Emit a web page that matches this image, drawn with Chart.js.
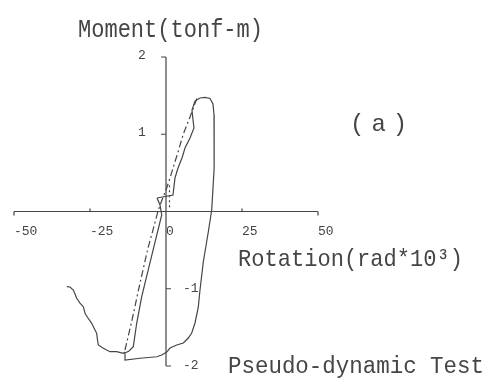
<!DOCTYPE html>
<html>
<head>
<meta charset="utf-8">
<script src="https://cdn.jsdelivr.net/npm/chart.js@4/dist/chart.umd.min.js"></script>
<style>
  html, body { margin: 0; padding: 0; background: #fff; }
  canvas { display: block; }
</style>
</head>
<body>
<canvas id="chart" width="486" height="382"></canvas>
<script>
// Main hysteresis loop: loading to the positive peak, unloading to the negative side and back
const loopRotation = [-2.96, 2.30, 2.96, 3.95, 5.26, 6.25, 7.89, 9.21, 8.88, 8.55, 9.54, 11.18, 12.83, 14.47,
  15.46, 15.79, 15.89, 15.79, 15.46, 15.03, 13.91, 12.27, 11.18, 10.63, 9.54, 8.45, 7.34, 5.69, 3.52, 1.32,
  0.23, -1.41, -3.06, -8.55, -13.49, -13.49, -12.17, -10.76, -9.64, -7.99, -6.91, -3.85, -1.41, -1.97, -2.96];
const loopMoment = [0.175, 0.214, 0.434, 0.563, 0.693, 0.822, 0.951, 1.081, 1.184, 1.314, 1.430, 1.469, 1.476, 1.463,
  1.392, 1.249, 0.990, 0.563, 0.304, 0.019, -0.265, -0.654, -1.016, -1.236, -1.443, -1.573, -1.638, -1.702, -1.728, -1.767,
  -1.819, -1.858, -1.880, -1.900, -1.922, -1.832, -1.806, -1.750, -1.447, -1.103, -0.926, -0.434, -0.045, 0.084, 0.175];

// Dash-dot reloading branch
const branchRotation = [-13.49, -11.18, -8.55, -5.92, -4.28, -2.63, -1.32, 0.23, 1.32, 3.95, 5.59, 7.89, 10.20];
const branchMoment = [-1.793, -1.405, -0.926, -0.472, -0.239, 0.006, 0.149, 0.304, 0.434, 0.770, 0.990, 1.223, 1.469];

// Negative-side path running in from the left
const tailRotation = [-32.66, -31.58, -30.49, -29.93, -29.38, -28.29, -27.20, -26.64, -25.66, -24.44, -23.68, -22.80,
  -22.53, -22.27, -20.63, -18.42, -16.22, -14.05, -13.49];
const tailMoment = [-0.973, -0.977, -1.016, -1.068, -1.124, -1.185, -1.232, -1.318, -1.379, -1.447, -1.508, -1.577,
  -1.663, -1.728, -1.771, -1.815, -1.815, -1.836, -1.819];

// Short dotted segment near the origin
const dotRotation = [1.15, 1.15];
const dotMoment = [0.34, 0.02];

// Axis ticks
const xTicks = [-50, -25, 0, 25, 50];
const xTickLabels = ['-50', '-25', '0', '25', '50'];
const yTicks = [2, 1, -1, -2];
const yTickLabels = ['2', '1', '-1', '-2'];

const INK = '#454545';
const FONT = '"Liberation Mono", "DejaVu Sans Mono", monospace';

const pts = (xs, ys) => xs.map((x, i) => ({ x, y: ys[i] }));

// Text squeezed horizontally to span [left, right]
function fitText(ctx, str, left, right, baseline, size) {
  ctx.save();
  ctx.font = `${size}px ${FONT}`;
  const w = ctx.measureText(str).width;
  ctx.translate(left, baseline);
  ctx.scale((right - left) / w, 1);
  ctx.textAlign = 'left';
  ctx.textBaseline = 'alphabetic';
  ctx.fillText(str, 0, 0);
  ctx.restore();
}

// Axes crossing at the origin, with tick marks and labels placed from the scales
const crossAxes = {
  id: 'crossAxes',
  beforeDatasetsDraw(chart) {
    const { ctx, scales: { x, y } } = chart;
    const x0 = x.getPixelForValue(0);
    const y0 = y.getPixelForValue(0);
    ctx.save();
    ctx.strokeStyle = INK;
    ctx.lineWidth = 1.2;
    ctx.beginPath();
    ctx.moveTo(x.getPixelForValue(xTicks[0]), y0);
    ctx.lineTo(x.getPixelForValue(xTicks[xTicks.length - 1]), y0);
    ctx.moveTo(x0, y.getPixelForValue(yTicks[0]));
    ctx.lineTo(x0, y.getPixelForValue(yTicks[yTicks.length - 1]));
    xTicks.forEach((v, i) => {
      if (v === 0) return;
      const px = x.getPixelForValue(v);
      const end = i === 0 || i === xTicks.length - 1;
      ctx.moveTo(px, y0);
      ctx.lineTo(px, end ? y0 + 4 : y0 - 3);
    });
    yTicks.forEach(v => {
      const py = y.getPixelForValue(v);
      ctx.moveTo(x0, py);
      ctx.lineTo(v > 0 ? x0 - 5 : x0 + 5, py);
    });
    ctx.stroke();

    ctx.fillStyle = INK;
    ctx.font = `13px ${FONT}`;
    ctx.textBaseline = 'alphabetic';
    ctx.textAlign = 'left';
    xTicks.forEach((v, i) => {
      ctx.fillText(xTickLabels[i], x.getPixelForValue(v), y0 + 23.5);
    });
    yTicks.forEach((v, i) => {
      const py = y.getPixelForValue(v);
      if (v > 0) {
        ctx.textAlign = 'center';
        ctx.fillText(yTickLabels[i], x0 - 24, py + 2);
      } else {
        ctx.textAlign = 'left';
        ctx.fillText(yTickLabels[i], x0 + 17, py + 3);
      }
    });
    ctx.restore();
  },
  afterDraw(chart) {
    const { ctx } = chart;
    ctx.save();
    ctx.fillStyle = INK;
    fitText(ctx, 'Moment(tonf-m)', 78, 263, 37, 25);
    fitText(ctx, 'Rotation(rad*10³)', 238, 463, 266, 24);
    fitText(ctx, 'Pseudo-dynamic Test', 228, 484, 373, 23);
    ctx.font = `24px ${FONT}`;
    ctx.textAlign = 'left';
    ctx.letterSpacing = '7px';
    ctx.fillText('(a)', 350, 131);
    ctx.restore();
  }
};

const line = {
  showLine: true,
  pointRadius: 0,
  borderColor: INK,
  borderWidth: 1.2,
  tension: 0,
  fill: false
};

new Chart(document.getElementById('chart'), {
  type: 'scatter',
  data: {
    datasets: [
      { ...line, data: pts(loopRotation, loopMoment) },
      { ...line, data: pts(branchRotation, branchMoment), borderDash: [7, 3, 2, 3] },
      { ...line, data: pts(tailRotation, tailMoment) },
      { ...line, data: pts(dotRotation, dotMoment), borderDash: [2, 3] }
    ]
  },
  options: {
    responsive: false,
    animation: false,
    devicePixelRatio: 1,
    layout: { padding: { left: 14, right: 168, top: 57, bottom: 16 } },
    plugins: { legend: { display: false }, tooltip: { enabled: false } },
    scales: {
      x: { type: 'linear', min: -50, max: 50, display: false },
      y: { type: 'linear', min: -2, max: 2, display: false }
    }
  },
  plugins: [crossAxes]
});
</script>
</body>
</html>
